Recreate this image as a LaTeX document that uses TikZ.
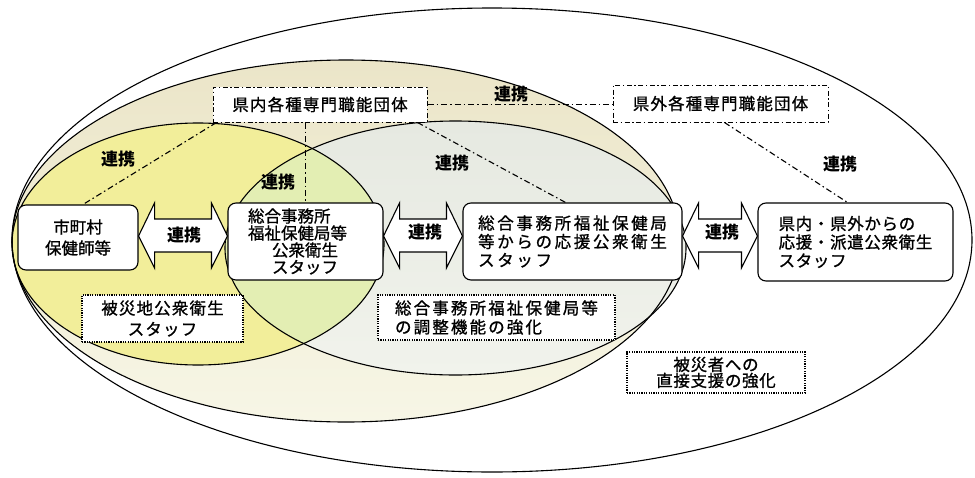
\documentclass[tikz,border=0pt]{standalone}
\usepackage{fontspec}
\newfontfamily\jp[FakeBold=1]{Noto Sans CJK JP}
\newfontfamily\jpl{Noto Sans CJK JP}
\newfontfamily\jpa[LetterSpace=4,FakeBold=1]{Noto Sans CJK JP}
\newfontfamily\jpb[LetterSpace=7,FakeBold=1]{Noto Sans CJK JP}
\newfontfamily\jpc[LetterSpace=13,FakeBold=1]{Noto Sans CJK JP}
\newfontfamily\jpd[LetterSpace=16,FakeBold=1]{Noto Sans CJK JP}
\usetikzlibrary{calc}
\definecolor{beigeT}{HTML}{EBE5C8}
\definecolor{beigeB}{HTML}{F7F6E6}
\definecolor{greenT}{HTML}{E6E9E1}
\definecolor{greenB}{HTML}{F1F3EC}
\definecolor{yel}{HTML}{F2EE9A}
\definecolor{lensc}{HTML}{E3EEB3}
\tikzset{
  ell/.style={line width=1.1pt},
  box/.style={draw, line width=1.1pt, rounded corners=8pt, fill=white, inner sep=0pt},
  orgbox/.style={draw, line width=1pt, dash pattern=on 5pt off 2.5pt on 1.5pt off 2.5pt, fill=white, inner sep=0pt},
  notebox/.style={draw, line width=1.4pt, dash pattern=on 1.2pt off 1.2pt, fill=white, inner sep=0pt},
  link/.style={line width=1.1pt, dash pattern=on 6pt off 3pt on 1.5pt off 3pt},
  lbl/.style={font=\jpl\bfseries\fontsize{17}{18}\selectfont, inner sep=0pt},
  blk/.style={draw, line width=1.1pt, fill=white, line join=miter},
}
\newcommand\blockarrow[2]{%
  \draw[blk] let \p1=(#1.east), \p2=(#2.west) in
   (\x1,-236pt) -- (\x1+16pt,-203pt) -- (\x1+16pt,-219pt) -- (\x2-16pt,-219pt)
   -- (\x2-16pt,-203pt) -- (\x2,-236pt) -- (\x2-16pt,-268pt) -- (\x2-16pt,-252pt)
   -- (\x1+16pt,-252pt) -- (\x1+16pt,-268pt) -- cycle;}
\begin{document}
\begin{tikzpicture}[x=1pt,y=-1pt]
\useasboundingbox (0,0) rectangle (975,477);
% ellipses
\fill[white] (492,240) ellipse [x radius=480pt, y radius=232pt];
\shade[top color=beigeT, bottom color=beigeB] (346,241) ellipse [x radius=334pt, y radius=181pt];
\shade[top color=greenT, bottom color=greenB] (455.5,248) ellipse [x radius=230.5pt, y radius=127pt];
\fill[yel] (198,244) ellipse [x radius=186pt, y radius=121pt];
\begin{scope}
  \clip (455.5,248) ellipse [x radius=230.5pt, y radius=127pt];
  \fill[lensc] (198,244) ellipse [x radius=186pt, y radius=121pt];
\end{scope}
\draw[ell] (492,240) ellipse [x radius=480pt, y radius=232pt];
\draw[ell] (346,241) ellipse [x radius=334pt, y radius=181pt];
\draw[ell] (455.5,248) ellipse [x radius=230.5pt, y radius=127pt];
\draw[ell] (198,244) ellipse [x radius=186pt, y radius=121pt];

% main boxes
\node[box, minimum width=120pt, minimum height=65pt, align=center,
   font=\jp\fontsize{16.5}{21}\selectfont] (mun) at (78,237.5) {市町村\\保健師等};
\node[box, minimum width=155pt, minimum height=77pt, align=left,
   font=\jp\fontsize{16.5}{17}\selectfont] (hq) at (305.5,241.5)
   {総合事務所\\福祉保健局等\hspace*{16pt}\null\\\hspace*{24pt}公衆衛生\\\hspace*{24pt}スタッフ};
\node[box, minimum width=219pt, minimum height=77pt, align=left,
   font=\jpd\fontsize{16.5}{18.5}\selectfont] (sup) at (572.5,241.5)
   {総合事務所福祉保健局\\等からの応援公衆衛生\\スタッフ};
\node[box, minimum width=195pt, minimum height=78pt, align=left,
   font=\jpa\fontsize{16.5}{18.5}\selectfont] (ext) at (855.5,242)
   {県内・県外からの\\応援・派遣公衆衛生\\スタッフ};

% organisation boxes
\node[orgbox, minimum width=214pt, minimum height=35pt,
   font=\jpb\fontsize{16.5}{18}\selectfont] (inorg) at (320,104.5) {県内各種専門職能団体};
\node[orgbox, minimum width=215pt, minimum height=37pt,
   font=\jpb\fontsize{16.5}{18}\selectfont] (outorg) at (720.5,103.5) {県外各種専門職能団体};

% note boxes
\node[notebox, minimum width=161pt, minimum height=47pt, align=center,
   font=\jpb\fontsize{16.5}{21}\selectfont] (note1) at (162.5,318.5) {被災地公衆衛生\\スタッフ};
\node[notebox, minimum width=237pt, minimum height=45pt, align=left,
   font=\jpc\fontsize{16.5}{19}\selectfont] (note2) at (496.5,317.5) {総合事務所福祉保健局等\\の調整機能の強化};
\node[notebox, minimum width=178pt, minimum height=41pt, align=center,
   font=\jpa\fontsize{16.5}{16}\selectfont] (note3) at (716,372.5) {被災者への\\直接支援の強化};

% dash-dot links
\draw[link] ([xshift=4pt]inorg.south west) -- ([xshift=5pt]mun.north);
\draw[link] (hq.north |- inorg.south) -- (hq.north);
\draw[link] ([xshift=-10pt]inorg.south east) -- ([xshift=-7pt]sup.north);
\draw[link] (inorg.east) -- (inorg.east -| outorg.west);
\draw[link] ([xshift=4pt]outorg.south) -- ([xshift=-8pt]ext.north);

% block arrows
\blockarrow{mun}{hq}
\blockarrow{hq}{sup}
\blockarrow{sup}{ext}

% labels
\node[lbl] (k1) at (118,159) {連携};
\node[lbl] (k2) at (278,182) {連携};
\node[lbl] (k3) at (452,163) {連携};
\node[lbl] (k4) at (511,94) {連携};
\node[lbl] (k5) at (840,164) {連携};
\node[lbl] (a1) at (184,235) {連携};
\node[lbl] (a2) at (425,232) {連携};
\node[lbl] (a3) at (722,232) {連携};
\end{tikzpicture}
\end{document}
